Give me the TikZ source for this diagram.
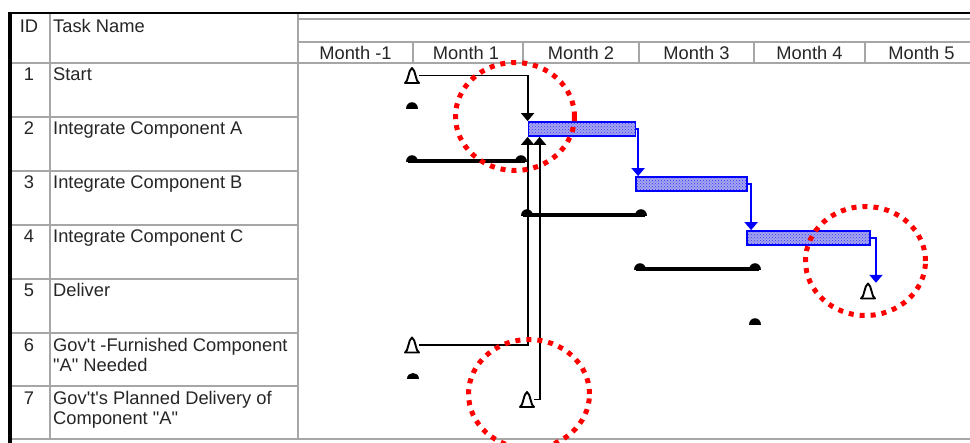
\documentclass[tikz,border=0pt]{standalone}
\usepackage{fontspec}
\setmainfont{Liberation Sans}[Ligatures=TeXOff]
\usetikzlibrary{arrows.meta,patterns}
\begin{document}
\begin{tikzpicture}[x=1pt,y=-1pt,
  grid/.style={draw=gray!70, line width=1.8pt},
  txt/.style={font=\fontsize{18.3}{20}\selectfont, text=black!85, inner sep=0, anchor=base west},
  idtxt/.style={txt, anchor=base},
  mon/.style={txt, anchor=base},
  bar/.style={draw=blue, line width=1.8pt, inner sep=0, preaction={fill={rgb,255:red,165;green,165;blue,238}}, pattern=crosshatch dots, pattern color=blue!80},
  ms/.style={inner sep=0, minimum width=14pt, minimum height=16pt},
  blk/.style={draw=black, line width=1.8pt, -{Triangle[width=13pt,length=8pt]}},
  bl/.style={draw=blue, line width=2pt, -{Triangle[width=13pt,length=8pt]}},
  basel/.style={draw=black, line width=3.2pt},
  ring/.style={draw=red, line width=5pt, dash pattern=on 5pt off 6pt},
  milestone/.pic={\draw[line width=1.9pt, fill=white, line join=round]
      (-7,7.5) -- (7,7.5) -- (5,5) -- (2.2,-4.5) -- (0,-7.5) -- (-2.2,-4.5) -- (-5,5) -- cycle;},
  bmark/.pic={\fill (-6,0.5) .. controls (-6,-8) and (6,-8) .. (6,0.5) -- cycle;}
]
\useasboundingbox (0,0) rectangle (970,443);
\fill[white] (0,0) rectangle (970,443);

% grid
\draw[grid] (298,19) -- (970,19);
\draw[grid] (298,42) -- (970,42);
\draw[grid] (10,63) -- (970,63);
\foreach \x in {413,523,639,754,865} \draw[grid] (\x,42) -- (\x,63);
\foreach \y in {117,171,225,279,333,386} \draw[grid] (10,\y) -- (298,\y);
\draw[grid] (50,13) -- (50,439);
\draw[grid] (298,13) -- (298,439);
\draw[grid] (10,439) -- (970,439);
\draw[black, line width=2.5pt] (10,13) -- (970,13);
\draw[black, line width=3.5pt] (10,11.75) -- (10,443);

% header texts
\node[idtxt] (hid) at (29,32.5) {ID};
\node[txt] (hname) at (53,32.5) {Task Name};
\node[mon] (mm1) at (355.5,60) {Month -1};
\node[mon] (mo1) at (466,60) {Month 1};
\node[mon] (mo2) at (581,60) {Month 2};
\node[mon] (mo3) at (696.5,60) {Month 3};
\node[mon] (mo4) at (809.5,60) {Month 4};
\node[mon] (mo5) at (921.5,60) {Month 5};

% rows
\node[idtxt] (i1) at (29,81) {1};
\node[txt] (t1) at (53,81) {Start};
\node[idtxt] (i2) at (29,135) {2};
\node[txt] (t2) at (53,135) {Integrate Component A};
\node[idtxt] (i3) at (29,189) {3};
\node[txt] (t3) at (53,189) {Integrate Component B};
\node[idtxt] (i4) at (29,243) {4};
\node[txt] (t4) at (53,243) {Integrate Component C};
\node[idtxt] (i5) at (29,297) {5};
\node[txt] (t5) at (53,297) {Deliver};
\node[idtxt] (i6) at (29,352) {6};
\node[txt] (t6a) at (53,352) {Gov't -Furnished Component};
\node[txt] (t6b) at (53,372) {"A" Needed};
\node[idtxt] (i7) at (29,405) {7};
\node[txt] (t7a) at (53,405) {Gov't's Planned Delivery of};
\node[txt] (t7b) at (53,425) {Component "A"};

% baselines
\draw[basel] (408,161) -- (525,161);
\pic at (412,161.5) {bmark}; \pic at (521,161.5) {bmark};
\draw[basel] (523,215) -- (645,215);
\pic at (527,215.5) {bmark}; \pic at (641,215.5) {bmark};
\draw[basel] (636,269) -- (759,269);
\pic at (640,269.5) {bmark}; \pic at (755,269.5) {bmark};
\pic at (412,108.5) {bmark};
\pic at (755,324.5) {bmark};
\pic at (413,379) {bmark};

% bars
\node[bar, minimum width=107pt, minimum height=14pt] (b2) at (582,129) {};
\node[bar, minimum width=111pt, minimum height=14pt] (b3) at (691.5,184) {};
\node[bar, minimum width=123pt, minimum height=14pt] (b4) at (808.5,238) {};

% milestones
\node[ms] (m1) at (412,75.5) {};
\node[ms] (m5) at (868,291) {};
\node[ms] (m6) at (412,345) {};
\node[ms] (m7) at (527,399.5) {};

% connectors
\draw[blk] (m1.east) -| (b2.north west);
\draw[blk] (m6.east) -| (b2.south west);
\draw[blk] (m7.east) -| ([xshift=12pt]b2.south west);
\draw[bl] (b2.east) -| ([xshift=3pt]b3.north west);
\draw[bl] (b3.east) -| ([xshift=5pt]b4.north west);
\draw[bl] (b4.east) -| ([xshift=8pt]m5.north);

\pic at (m1) {milestone};
\pic at (m5) {milestone};
\pic at (m6) {milestone};
\pic at (m7) {milestone};

% red rings
\draw[ring] (515,116.5) ellipse [x radius=59.5pt, y radius=54pt];
\draw[ring] (865.5,261) ellipse [x radius=60pt, y radius=54.5pt];
\draw[ring] (529,394) ellipse [x radius=60.5pt, y radius=54.5pt];
\end{tikzpicture}
\end{document}
